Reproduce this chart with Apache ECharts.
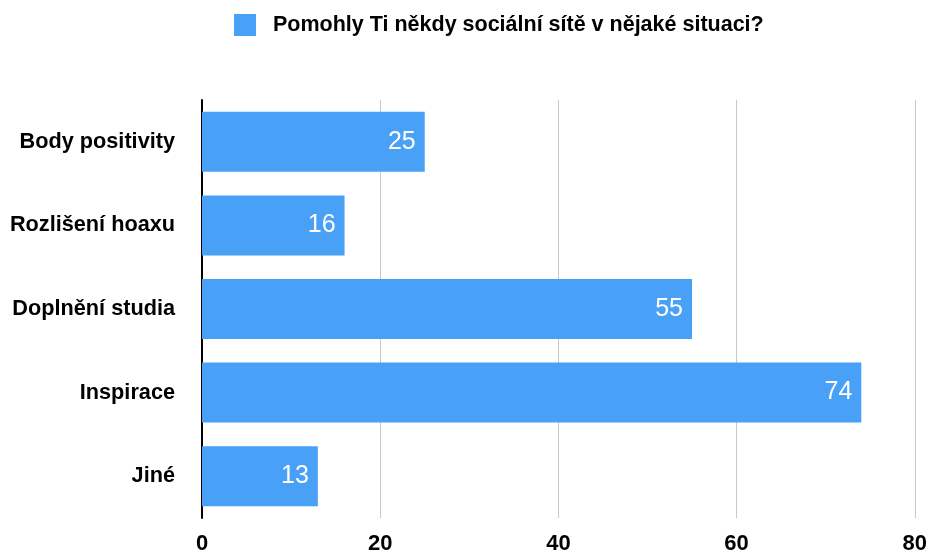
<!DOCTYPE html>
<html>
<head>
<meta charset="utf-8">
<script src="https://cdn.jsdelivr.net/npm/echarts@6/dist/echarts.min.js"></script>
<style>
  html, body { margin: 0; padding: 0; background: #fff; }
  #chart { width: 930px; height: 555px; }
</style>
</head>
<body>
<div id="chart"></div>
<script>
// Categories listed bottom-to-top for the category axis
const categories = ['Jiné', 'Inspirace', 'Doplnění studia', 'Rozlišení hoaxu', 'Body positivity'];
const values = [13, 74, 55, 16, 25];
const seriesName = 'Pomohly Ti někdy sociální sítě v nějaké situaci?';
const xTicks = [0, 20, 40, 60, 80];

const FONT = '"Liberation Sans", Arial, Helvetica, sans-serif';

const chart = echarts.init(document.getElementById('chart'));
chart.setOption({
  animation: false,
  textStyle: { fontFamily: FONT },
  legend: {
    top: 14,
    left: 234,
    padding: 0,
    itemWidth: 22,
    itemHeight: 22,
    icon: 'rect',
    textStyle: { fontSize: 21.5, fontWeight: 'bold', color: '#000', fontFamily: FONT, padding: [0, 0, 0, 12] }
  },
  grid: { left: 202, right: 13, top: 100, bottom: 37 },
  xAxis: {
    type: 'value',
    min: xTicks[0],
    max: xTicks[xTicks.length - 1],
    interval: 20,
    axisLine: { show: false },
    axisTick: { show: false },
    axisLabel: { fontSize: 22, fontWeight: 'bold', color: '#000', margin: 15, fontFamily: FONT },
    splitLine: { show: true, lineStyle: { color: '#c8c8c8', width: 1 } }
  },
  yAxis: {
    type: 'category',
    data: categories,
    axisLine: { show: true, lineStyle: { color: '#000', width: 2 } },
    axisTick: { show: false },
    axisLabel: { fontSize: 21.7, fontWeight: 'bold', color: '#000', margin: 27, fontFamily: FONT }
  },
  series: [{
    name: seriesName,
    type: 'bar',
    data: values,
    barWidth: 60,
    itemStyle: { color: '#49a0f7' },
    label: {
      show: true,
      position: 'insideRight',
      distance: 9,
      color: '#fff',
      fontSize: 25,
      fontFamily: FONT
    }
  }]
});
</script>
</body>
</html>
